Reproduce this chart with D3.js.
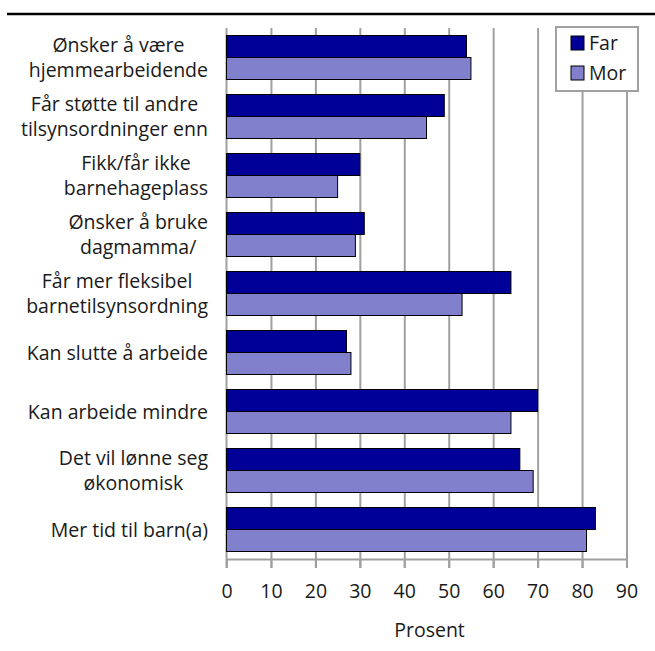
<!doctype html>
<html>
<head>
<style>
  body { margin: 0; background: #fff; }
  text { font-family: "Open Sans", sans-serif; fill: #1a1a1a; }
</style>
</head>
<body>
    <div class="container"></div>

	<script src="https://d3js.org/d3.v7.min.js"></script>

    <script>
        // chart data
        const categories = [
            ['Ønsker å være', 'hjemmearbeidende'],
            ['Får støtte til andre', 'tilsynsordninger enn'],
            ['Fikk/får ikke', 'barnehageplass'],
            ['Ønsker å bruke', 'dagmamma/'],
            ['Får mer fleksibel', 'barnetilsynsordning'],
            ['Kan slutte å arbeide'],
            ['Kan arbeide mindre'],
            ['Det vil lønne seg', 'økonomisk'],
            ['Mer tid til barn(a)']
        ]
        const far = [54, 49, 30, 31, 64, 27, 70, 66, 83]
        const mor = [55, 45, 25, 29, 53, 28, 64, 69, 81]
        const series = ['Far', 'Mor']
        const colors = ['#000099', '#8080cc']
        const xTicks = [0, 10, 20, 30, 40, 50, 60, 70, 80, 90]
        const xTitle = 'Prosent'

        const W = 655, H = 651
        const fs = 19.5
        const svg = d3.select('.container').append('svg').attr('width', W).attr('height', H)

        const x = d3.scaleLinear().domain([0, 90]).range([226.5, 626.5])
        const y = d3.scaleBand().domain(d3.range(categories.length)).range([28, 559])
        const ySub = d3.scaleBand().domain(series).range([7.5, y.bandwidth() - 7.5])
        const grid = '#a0a0a0'

        // top rule
        svg.append('line').attr('x1', 7).attr('x2', W).attr('y1', 14).attr('y2', 14)
            .attr('stroke', '#000').attr('stroke-width', 2.5)

        // gridlines
        svg.append('g').attr('transform', 'translate(0,28)')
            .call(d3.axisBottom(x).tickValues(xTicks.slice(1)).tickSize(540).tickFormat(''))
            .call(g => g.select('.domain').remove())
            .call(g => g.selectAll('line').attr('stroke', grid).attr('stroke-width', 2))

        // x axis
        svg.append('g').attr('transform', 'translate(0,559)')
            .call(d3.axisBottom(x).tickValues(xTicks).tickSize(9).tickSizeOuter(0).tickPadding(16.5))
            .call(g => g.select('.domain').attr('stroke', grid).attr('stroke-width', 2))
            .call(g => g.selectAll('line').attr('stroke', grid).attr('stroke-width', 2))
            .call(g => g.selectAll('text').attr('font-size', fs).style('font-family', '"Open Sans", sans-serif').attr('fill', '#1a1a1a'))

        // y axis line
        svg.append('line').attr('x1', x(0)).attr('x2', x(0)).attr('y1', 28).attr('y2', 568)
            .attr('stroke', grid).attr('stroke-width', 2)

        // bars
        const rows = svg.append('g').selectAll('g').data(categories).join('g')
            .attr('transform', (d, i) => `translate(0,${y(i)})`)
        rows.selectAll('rect')
            .data((d, i) => [far[i], mor[i]].map((v, j) => ({ s: series[j], v, c: colors[j] })))
            .join('rect')
            .attr('x', x(0))
            .attr('y', d => ySub(d.s))
            .attr('width', d => x(d.v) - x(0))
            .attr('height', ySub.bandwidth())
            .attr('fill', d => d.c)
            .attr('stroke', '#000').attr('stroke-width', 1)

        // category labels (centered lines, block right aligned)
        rows.each(function (lines) {
            const g = d3.select(this)
            const cy = y.bandwidth() / 2
            const t = g.selectAll('text').data(lines).join('text')
                .attr('font-size', fs)
                .attr('y', (d, k) => lines.length === 1 ? cy + 7 : cy - 6 + k * 25)
                .text(d => d)
            const w = d3.max(t.nodes(), n => n.getComputedTextLength())
            t.attr('x', 208 - w / 2).attr('text-anchor', 'middle')
        })

        // x title
        svg.append('text').attr('x', (x(0) + x(90)) / 2 + 3).attr('y', 637)
            .attr('text-anchor', 'middle').attr('font-size', fs).text(xTitle)

        // legend
        const lg = svg.append('g')
        lg.append('rect').attr('x', 556).attr('y', 27).attr('width', 82).attr('height', 64)
            .attr('fill', '#fff').attr('stroke', grid).attr('stroke-width', 2)
        series.forEach((s, j) => {
            lg.append('rect').attr('x', 571).attr('y', 36 + j * 30).attr('width', 13).attr('height', 14)
                .attr('fill', colors[j]).attr('stroke', '#000').attr('stroke-width', 1)
            lg.append('text').attr('x', 589).attr('y', 50 + j * 30).attr('font-size', fs).text(s)
        })
    </script>
</body>
</html>
